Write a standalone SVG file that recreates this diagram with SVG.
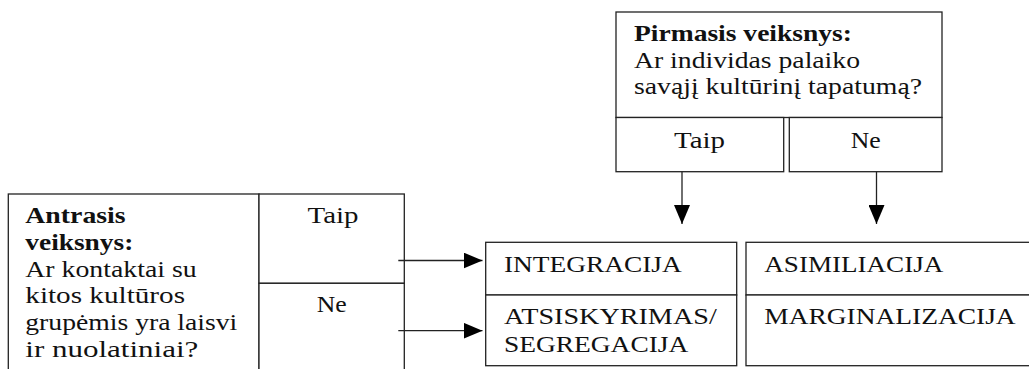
<svg xmlns="http://www.w3.org/2000/svg" width="1029" height="369" viewBox="0 0 1029 369">
<style>
.box{fill:#fff;stroke:#222;stroke-width:1.3}
.ln{stroke:#222;stroke-width:1.3;fill:none}
.t{font-family:'Liberation Serif','Times New Roman','DejaVu Serif',serif;font-size:24px;fill:#111}
.b{font-weight:bold}
</style>
<defs>
<marker id="ah" viewBox="0 0 19 16" refX="19" refY="8" markerWidth="19" markerHeight="16" markerUnits="userSpaceOnUse" orient="auto">
<path d="M0,0 L19,8 L0,16 Z" fill="#000"/>
</marker>
</defs>
<rect width="1029" height="369" fill="#fff"/>
<g id="pirmasis">
<rect class="box" x="616" y="12" width="326" height="105.5"/>
<text class="t b" font-family="Liberation Serif, serif" x="634" y="40.7" textLength="218" lengthAdjust="spacingAndGlyphs">Pirmasis veiksnys:</text>
<text class="t" font-family="Liberation Serif, serif" x="634" y="67.7" textLength="226" lengthAdjust="spacingAndGlyphs">Ar individas palaiko</text>
<text class="t" font-family="Liberation Serif, serif" x="634" y="94.3" textLength="288" lengthAdjust="spacingAndGlyphs">savąjį kultūrinį tapatumą?</text>
</g>
<g id="pirmasis-taip">
<rect class="box" x="616" y="117.5" width="167.7" height="54.2"/>
<text class="t" font-family="Liberation Serif, serif" x="674" y="148.3" textLength="51" lengthAdjust="spacingAndGlyphs">Taip</text>
</g>
<g id="pirmasis-ne">
<rect class="box" x="789.3" y="117.5" width="152.7" height="54.2"/>
<text class="t" font-family="Liberation Serif, serif" x="850.7" y="148.3" textLength="30" lengthAdjust="spacingAndGlyphs">Ne</text>
</g>
<g id="antrasis">
<rect class="box" x="8.3" y="194" width="250.7" height="190"/>
<text class="t b" font-family="Liberation Serif, serif" x="25.3" y="223.3" textLength="100.3" lengthAdjust="spacingAndGlyphs">Antrasis</text>
<text class="t b" font-family="Liberation Serif, serif" x="25.3" y="250" textLength="108" lengthAdjust="spacingAndGlyphs">veiksnys:</text>
<text class="t" font-family="Liberation Serif, serif" x="25.3" y="276.7" textLength="171.3" lengthAdjust="spacingAndGlyphs">Ar kontaktai su</text>
<text class="t" font-family="Liberation Serif, serif" x="25.3" y="303.3" textLength="159.7" lengthAdjust="spacingAndGlyphs">kitos kultūros</text>
<text class="t" font-family="Liberation Serif, serif" x="25.3" y="330" textLength="212" lengthAdjust="spacingAndGlyphs">grupėmis yra laisvi</text>
<text class="t" font-family="Liberation Serif, serif" x="25.3" y="356.7" textLength="173" lengthAdjust="spacingAndGlyphs">ir nuolatiniai?</text>
</g>
<g id="antrasis-taip">
<rect class="box" x="259" y="194" width="145.3" height="89.3"/>
<text class="t" font-family="Liberation Serif, serif" x="307.5" y="223.3" textLength="51" lengthAdjust="spacingAndGlyphs">Taip</text>
</g>
<g id="antrasis-ne">
<rect class="box" x="259" y="283.3" width="145.3" height="100.7"/>
<text class="t" font-family="Liberation Serif, serif" x="316.7" y="311.7" textLength="30" lengthAdjust="spacingAndGlyphs">Ne</text>
</g>
<g id="integracija">
<rect class="box" x="485.7" y="242.3" width="251" height="52.7"/>
<text class="t" font-family="Liberation Serif, serif" x="504" y="271.7" textLength="177.7" lengthAdjust="spacingAndGlyphs">INTEGRACIJA</text>
</g>
<g id="atsiskyrimas">
<rect class="box" x="485.7" y="295" width="251" height="70.7"/>
<text class="t" font-family="Liberation Serif, serif" x="504" y="324.3" textLength="212.7" lengthAdjust="spacingAndGlyphs">ATSISKYRIMAS/</text>
<text class="t" font-family="Liberation Serif, serif" x="504" y="351.7" textLength="184.3" lengthAdjust="spacingAndGlyphs">SEGREGACIJA</text>
</g>
<g id="asimiliacija">
<rect class="box" x="746" y="242.3" width="295" height="52.7"/>
<text class="t" font-family="Liberation Serif, serif" x="764.3" y="271.7" textLength="179" lengthAdjust="spacingAndGlyphs">ASIMILIACIJA</text>
</g>
<g id="marginalizacija">
<rect class="box" x="746" y="295" width="295" height="70.7"/>
<text class="t" font-family="Liberation Serif, serif" x="764.3" y="324.3" textLength="251.3" lengthAdjust="spacingAndGlyphs">MARGINALIZACIJA</text>
</g>
<g id="connectors">
<line class="ln" x1="682" y1="171.7" x2="682" y2="224" marker-end="url(#ah)"/>
<line class="ln" x1="876.5" y1="171.7" x2="876.5" y2="224" marker-end="url(#ah)"/>
<line class="ln" x1="398.3" y1="260.5" x2="482.5" y2="260.5" marker-end="url(#ah)"/>
<line class="ln" x1="398.3" y1="330.7" x2="482.5" y2="330.7" marker-end="url(#ah)"/>
</g>
</svg>
